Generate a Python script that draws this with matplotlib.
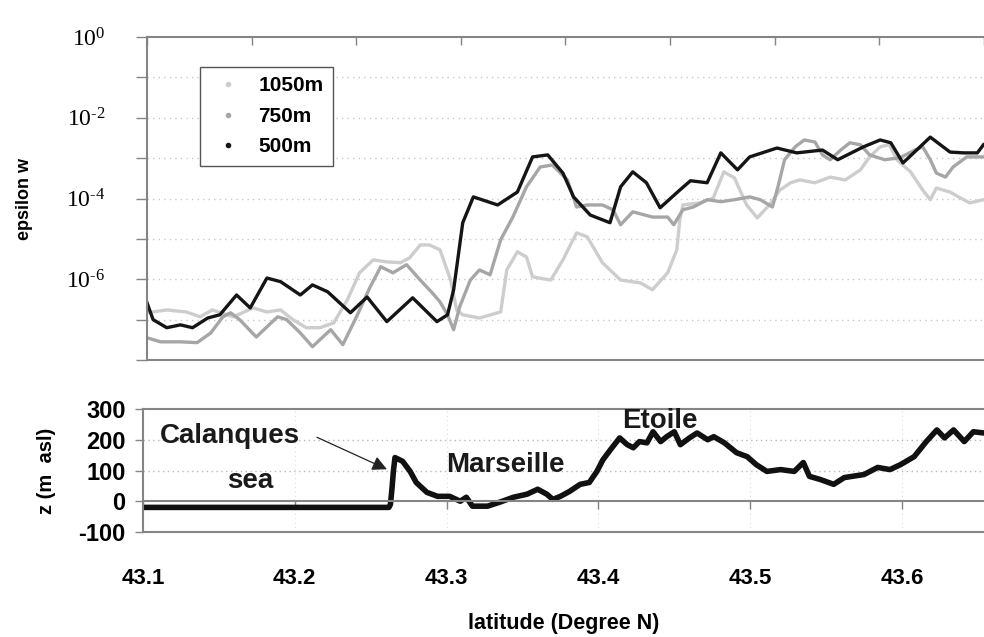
import numpy as np
import matplotlib
matplotlib.use("Agg")
import matplotlib.pyplot as plt
from matplotlib.lines import Line2D
from matplotlib.ticker import FixedLocator, FuncFormatter

plt.rcParams['font.family'] = ['Liberation Sans', 'DejaVu Sans']
plt.rcParams['axes.unicode_minus'] = False

# --- epsilon w (log10 of value) vs latitude ---
lat_500 = [43.100, 43.104, 43.113, 43.122, 43.130, 43.140, 43.148, 43.159, 43.168, 43.179,
           43.188, 43.201, 43.209, 43.219, 43.234, 43.245, 43.258, 43.275, 43.291, 43.298,
           43.302, 43.308, 43.315, 43.331, 43.344, 43.354, 43.364, 43.374, 43.381, 43.392,
           43.405, 43.412, 43.420, 43.429, 43.438, 43.451, 43.458, 43.469, 43.478, 43.489,
           43.497, 43.515, 43.528, 43.545, 43.555, 43.572, 43.583, 43.590, 43.598, 43.616,
           43.629, 43.638, 43.647, 43.651]
log_eps_500 = [-6.58, -7.00, -7.20, -7.13, -7.20, -6.96, -6.88, -6.39, -6.71, -5.97,
               -6.06, -6.39, -6.14, -6.31, -6.83, -6.44, -7.05, -6.46, -7.05, -6.88,
               -6.26, -4.60, -3.96, -4.16, -3.84, -2.97, -2.92, -3.37, -3.96, -4.41,
               -4.60, -3.71, -3.34, -3.61, -4.23, -3.79, -3.56, -3.61, -2.87, -3.29,
               -2.97, -2.75, -2.87, -2.80, -3.04, -2.72, -2.55, -2.62, -3.12, -2.48,
               -2.85, -2.87, -2.87, -2.67]

lat_750 = [43.100, 43.109, 43.122, 43.133, 43.142, 43.150, 43.155, 43.161, 43.172, 43.186,
           43.192, 43.201, 43.209, 43.221, 43.229, 43.238, 43.247, 43.254, 43.262, 43.271,
           43.280, 43.288, 43.293, 43.298, 43.302, 43.306, 43.313, 43.319, 43.326, 43.333,
           43.341, 43.350, 43.359, 43.367, 43.377, 43.383, 43.390, 43.400, 43.407, 43.412,
           43.420, 43.433, 43.443, 43.447, 43.453, 43.460, 43.469, 43.478, 43.487, 43.497,
           43.504, 43.512, 43.516, 43.520, 43.527, 43.533, 43.540, 43.545, 43.550, 43.557,
           43.563, 43.570, 43.576, 43.586, 43.596, 43.606, 43.611, 43.616, 43.620, 43.626,
           43.631, 43.640, 43.651]
log_eps_750 = [-7.45, -7.55, -7.55, -7.57, -7.33, -6.93, -6.83, -7.00, -7.43, -6.93,
               -7.00, -7.33, -7.67, -7.25, -7.62, -6.93, -6.19, -5.69, -5.84, -5.64,
               -6.02, -6.34, -6.56, -6.88, -7.25, -6.68, -6.02, -5.77, -5.89, -5.02,
               -4.46, -3.71, -3.22, -3.17, -3.54, -4.21, -4.16, -4.16, -4.28, -4.65,
               -4.33, -4.46, -4.46, -4.65, -4.28, -4.21, -4.03, -4.08, -4.03, -3.96,
               -4.03, -4.21, -3.66, -3.04, -2.72, -2.55, -2.60, -2.92, -3.04, -2.80,
               -2.62, -2.67, -2.92, -3.04, -2.99, -2.80, -2.72, -3.04, -3.37, -3.47,
               -3.22, -2.97, -2.97]

lat_1050 = [43.100, 43.113, 43.126, 43.135, 43.143, 43.157, 43.170, 43.179, 43.188, 43.196,
            43.205, 43.214, 43.223, 43.232, 43.240, 43.249, 43.258, 43.267, 43.273, 43.280,
            43.286, 43.293, 43.300, 43.304, 43.308, 43.319, 43.333, 43.337, 43.344, 43.350,
            43.354, 43.366, 43.374, 43.383, 43.390, 43.400, 43.412, 43.425, 43.433, 43.443,
            43.449, 43.451, 43.453, 43.464, 43.473, 43.480, 43.487, 43.495, 43.502, 43.510,
            43.517, 43.524, 43.530, 43.540, 43.550, 43.560, 43.570, 43.576, 43.583, 43.589,
            43.594, 43.603, 43.611, 43.616, 43.620, 43.629, 43.636, 43.642, 43.651]
log_eps_1050 = [-6.83, -6.76, -6.81, -6.93, -6.76, -6.93, -6.71, -6.81, -6.76, -7.00,
                -7.20, -7.20, -7.08, -6.51, -5.84, -5.52, -5.57, -5.59, -5.47, -5.15,
                -5.15, -5.27, -6.02, -6.76, -6.88, -6.96, -6.81, -5.77, -5.32, -5.45,
                -5.94, -6.02, -5.52, -4.85, -4.95, -5.59, -6.02, -6.09, -6.26, -5.84,
                -5.27, -4.53, -4.16, -4.11, -3.99, -3.34, -3.49, -4.16, -4.48, -4.16,
                -3.79, -3.61, -3.54, -3.61, -3.47, -3.54, -3.29, -2.97, -2.72, -2.67,
                -3.04, -3.34, -3.79, -4.03, -3.74, -3.84, -3.99, -4.11, -4.03]

# --- terrain height z (m asl) vs latitude ---
lat_z = [43.100, 43.130, 43.160, 43.190, 43.220, 43.250, 43.262, 43.263, 43.264, 43.265,
         43.266, 43.271, 43.276, 43.280, 43.287, 43.294, 43.302, 43.309, 43.313, 43.317,
         43.327, 43.335, 43.344, 43.353, 43.360, 43.366, 43.370, 43.375, 43.381, 43.388,
         43.394, 43.399, 43.403, 43.408, 43.414, 43.419, 43.423, 43.427, 43.432, 43.436,
         43.441, 43.445, 43.450, 43.454, 43.460, 43.465, 43.472, 43.476, 43.483, 43.491,
         43.498, 43.504, 43.511, 43.520, 43.529, 43.535, 43.539, 43.546, 43.555, 43.562,
         43.575, 43.584, 43.592, 43.599, 43.608, 43.616, 43.623, 43.628, 43.634, 43.641,
         43.647, 43.654]
z_asl = [-20, -20, -20, -20, -20, -20, -20, -10, 40, 100,
         142, 130, 97, 61, 29, 16, 16, 0, 13, -16,
         -16, -3, 13, 23, 39, 23, 6, 16, 32, 55,
         61, 97, 135, 168, 206, 184, 174, 194, 190, 226,
         194, 210, 226, 184, 206, 222, 200, 210, 190, 158,
         145, 119, 97, 103, 97, 126, 81, 71, 55, 77,
         87, 110, 103, 119, 145, 194, 232, 206, 232, 194,
         226, 222]

lat_ticks = [43.1, 43.2, 43.3, 43.4, 43.5, 43.6]
z_ticks = [-100, 0, 100, 200, 300]

W, H = 984, 637
fig = plt.figure(figsize=(W / 100, H / 100), dpi=100)
spine_c = '#858585'

# ---------------- top panel ----------------
ax1 = fig.add_axes([147 / W, 1 - 360 / H, (W - 147) / W, 323 / H])
ax1.plot(lat_1050, 10.0 ** np.array(log_eps_1050), color='#cdcdcd', lw=2.4)
ax1.plot(lat_750, 10.0 ** np.array(log_eps_750), color='#a6a6a6', lw=2.4)
ax1.plot(lat_500, 10.0 ** np.array(log_eps_500), color='#151515', lw=2.4)
ax1.set_yscale('log')
ax1.set_ylim(1e-8, 1e0)
x1max = 43.1 + (W - 147) / 1518
ax1.set_xlim(43.1, x1max)

decades = [10.0 ** k for k in range(-8, 1)]
ax1.yaxis.set_major_locator(FixedLocator(decades))
ax1.yaxis.set_minor_locator(FixedLocator([]))


def sci(v, pos):
    k = int(round(np.log10(v)))
    if k % 2 or k < -6:
        return ''
    exp = str(k) if k >= 0 else '\u2010' + str(-k)
    return r'$\mathregular{10^{%s}}$' % exp


ax1.yaxis.set_major_formatter(FuncFormatter(sci))
ax1.tick_params(axis='y', direction='out', length=8, width=1, color=spine_c,
                labelsize=17, pad=22)
for t in ax1.get_yticklabels():
    t.set_fontfamily('Liberation Serif')
ax1.xaxis.tick_top()
ax1.set_xticks(np.linspace(43.1, x1max, 9))
ax1.tick_params(axis='x', direction='in', length=6, width=1, color=spine_c,
                labeltop=False, labelbottom=False)
for k in range(-7, 0):
    ax1.axhline(10.0 ** k, color='#c8c8c8', lw=1, ls=(0, (1, 3)), zorder=0)
for s in ['left', 'top', 'bottom']:
    ax1.spines[s].set_color(spine_c)
    ax1.spines[s].set_linewidth(1.5)
ax1.spines['right'].set_visible(False)
ax1.set_ylabel('epsilon w', fontsize=13, fontweight='bold', labelpad=24)

handles = [Line2D([], [], ls='none', marker='o', ms=3, color=c)
           for c in ['#cdcdcd', '#a6a6a6', '#151515']]
leg = ax1.legend(handles, ['1050m', '750m', '500m'], loc='upper left',
                 bbox_to_anchor=(200 / W, 1 - 67 / H), bbox_transform=fig.transFigure,
                 borderaxespad=0, fancybox=False, framealpha=1, edgecolor='#555555',
                 prop={'weight': 'bold', 'size': 15}, handlelength=1.8,
                 handletextpad=0.55, labelspacing=0.55, borderpad=0.45)
leg.get_frame().set_linewidth(1)

# ---------------- bottom panel ----------------
ax2 = fig.add_axes([143 / W, 1 - 532 / H, (W - 143) / W, 123 / H])
ax2.plot(lat_z, z_asl, color='#111111', lw=4, solid_joinstyle='round')
ax2.set_xlim(43.1, 43.1 + (W - 143) / 1518)
ax2.set_ylim(-100, 300)
ax2.set_yticks(z_ticks)
ax2.set_xticks(lat_ticks)
ax2.set_xticklabels([f'{v:.1f}' for v in lat_ticks])
ax2.spines['bottom'].set_position(('data', 0))
ax2.spines['right'].set_visible(False)
for s in ['left', 'top', 'bottom']:
    ax2.spines[s].set_color(spine_c)
    ax2.spines[s].set_linewidth(1.5)
ax2.axhline(-100, color=spine_c, lw=1.5, clip_on=False)
for v in [100, 200]:
    ax2.axhline(v, color='#b8b8b8', lw=1, ls=(0, (1, 2.5)), zorder=0)
for v in lat_ticks[1:]:
    ax2.axvline(v, color='#dddddd', lw=0.8, ls=(0, (1, 3)), zorder=0)
ax2.tick_params(axis='both', direction='out', length=6, width=1, color=spine_c)
ax2.tick_params(axis='y', labelsize=17, pad=6.5)
ax2.tick_params(axis='x', labelsize=16, pad=42)
for t in ax2.get_xticklabels() + ax2.get_yticklabels():
    t.set_fontweight('bold')
ax2.set_ylabel('z (m  asl)', fontsize=14.5, fontweight='bold', labelpad=16)
ax2.set_xlabel('latitude (Degree N)', fontsize=15.5, fontweight='bold', labelpad=17)

txt = dict(fontsize=20, fontweight='bold', color='#1a1a1a')
ax2.text(43.111, 211, 'Calanques', ha='left', va='center', **txt)
ax2.annotate('', xy=(43.2607, 104), xytext=(43.2146, 208),
             arrowprops=dict(arrowstyle='-|>', color='#222222', lw=0.9,
                             mutation_scale=22, shrinkA=0, shrinkB=0))
ax2.text(43.1705, 66, 'sea', ha='center', va='center', **txt)
ax2.text(43.3385, 117, 'Marseille', ha='center', va='center', **txt)
ax2.text(43.4406, 262, 'Etoile', ha='center', va='center', **txt)

fig.savefig('out.png', dpi=100)
